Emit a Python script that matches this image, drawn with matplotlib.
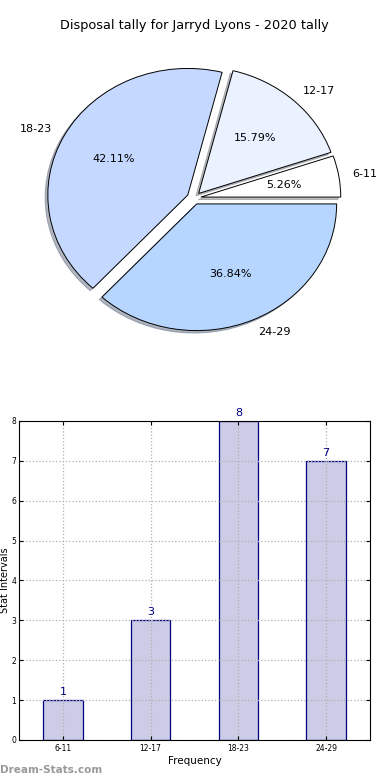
import matplotlib
matplotlib.use("Agg")
import matplotlib.pyplot as plt

# === Data ===
intervals = ["6-11", "12-17", "18-23", "24-29"]
tally = [1, 3, 8, 7]
pie_colors = ["#ffffff", "#eaf1ff", "#c5d8ff", "#b6d5ff"]
explode = [0.05, 0.05, 0.05, 0.05]
title = "Disposal tally for Jarryd Lyons - 2020 tally"

fig = plt.figure(figsize=(3.9, 7.8), dpi=100)

# === Pie chart ===
ax1 = fig.add_axes([0.0487, 0.543, 0.897, 0.406])
ax1.pie(tally, labels=intervals, colors=pie_colors, explode=explode,
        autopct="%.2f%%", startangle=0,
        shadow=dict(ox=-0.014, oy=-0.014, shade=0.5),
        wedgeprops=dict(edgecolor="black", linewidth=0.7),
        textprops=dict(fontsize=8))
ax1.set_aspect("auto")
ax1.set_xlim(-1.25, 1.25)
ax1.set_ylim(-1.25, 1.25)
ax1.set_title(title, fontsize=9.3, pad=8)

# === Bar chart ===
ax2 = fig.add_axes([0.0487, 0.0513, 0.9, 0.409])
xpos = range(len(intervals))
bars = ax2.bar(xpos, tally, width=0.45, color="#ccccE6",
               edgecolor="#000080", linewidth=0.9, zorder=1)
for b, v in zip(bars, tally):
    ax2.text(b.get_x() + b.get_width() / 2, v + 0.08, str(v),
             ha="center", va="bottom", fontsize=8, color="#000080")
ax2.set_xlim(-0.5, 3.5)
ax2.set_ylim(0, 8)
ax2.set_xticks(list(xpos))
ax2.set_xticklabels(intervals, fontsize=5.5)
ax2.set_yticks(range(0, 9))
ax2.tick_params(axis="both", direction="in", length=3, right=True, top=True)
ax2.tick_params(axis="y", labelsize=5.5, pad=2)
ax2.tick_params(axis="x", pad=3)
ax2.grid(True, linestyle=":", color="#b0b0b0", linewidth=0.9)
ax2.set_axisbelow(False)
for sp in ax2.spines.values():
    sp.set_zorder(4)
ax2.set_xlabel("Frequency", fontsize=7.5, labelpad=2)
ax2.set_ylabel("Stat Intervals", fontsize=7)
ax2.yaxis.set_label_coords(-0.027, 0.5)

# === Watermark ===
fig.text(0.0, 0.013, "Dream-Stats.com", fontsize=7.5, color="#999999",
         fontweight="bold", ha="left", va="center")

plt.savefig("out.png", dpi=100)
plt.close()
